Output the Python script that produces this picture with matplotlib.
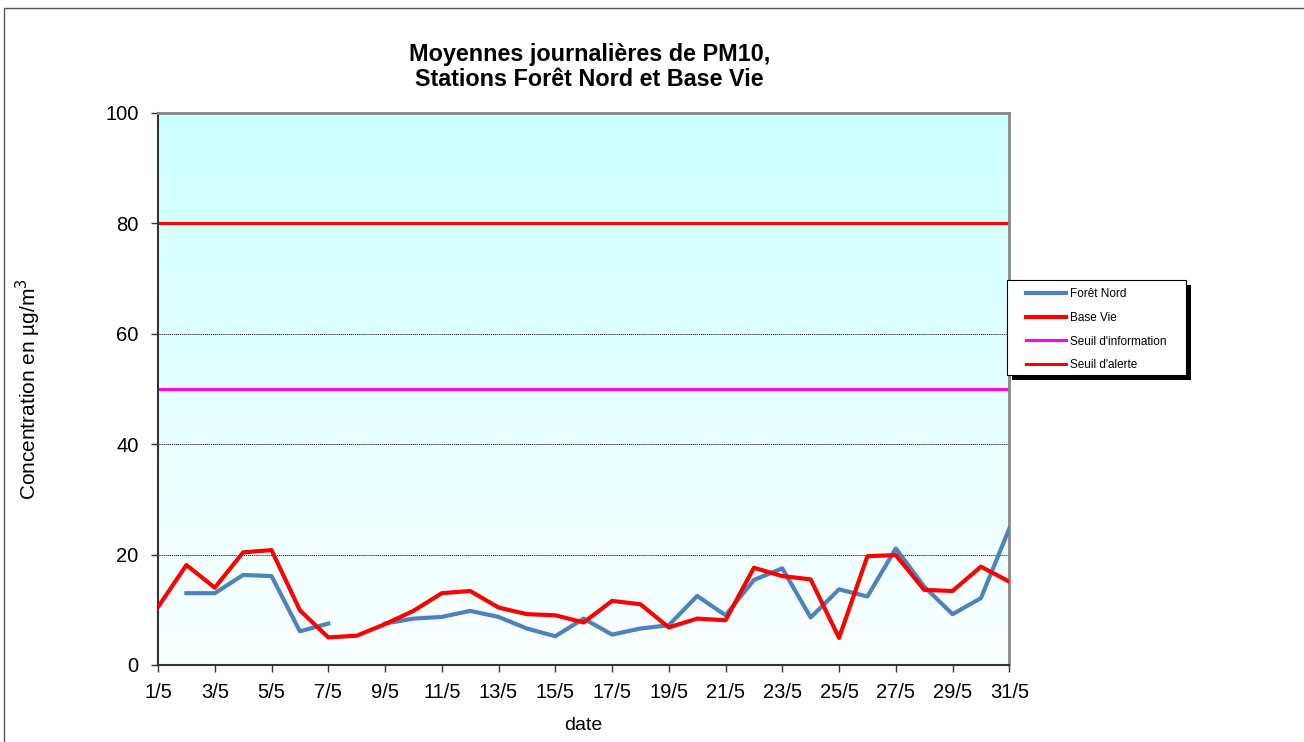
import numpy as np
import matplotlib.pyplot as plt
from matplotlib.patches import Rectangle

plt.rcParams['font.family'] = ['Liberation Sans', 'DejaVu Sans']

# Daily PM10 averages, May (day of month)
days = np.arange(1, 32)
foret_nord = [np.nan, 13.0, 13.0, 16.3, 16.1, 6.1, 7.5, np.nan, 7.5, 8.4,
              8.7, 9.8, 8.7, 6.6, 5.2, 8.4, 5.5, 6.6, 7.2, 12.5,
              9.0, 15.4, 17.5, 8.6, 13.7, 12.4, 21.1, 14.2, 9.2, 12.1, 24.7]
base_vie = [10.5, 18.1, 14.0, 20.4, 20.8, 9.9, 5.0, 5.3, 7.4, 9.8,
            13.0, 13.4, 10.4, 9.2, 9.0, 7.7, 11.6, 11.0, 6.8, 8.4,
            8.1, 17.6, 16.1, 15.5, 4.9, 19.7, 19.9, 13.6, 13.4, 17.8, 15.1]
seuil_info = 50
seuil_alerte = 80
tick_days = list(range(1, 32, 2))
tick_labels = [f'{d}/5' for d in tick_days]

W, H = 1304, 742
fig = plt.figure(figsize=(W / 100, H / 100), dpi=100)
ax = fig.add_axes([0.1212, 0.1038, 0.6528, 0.7442])

# outer chart frame
fig.patches.append(Rectangle((4 / W, -0.1), 1.2, 1 - 8 / H + 0.1,
                             transform=fig.transFigure, fill=False,
                             edgecolor='#555555', linewidth=1.0, zorder=0.5))

ax.set_xlim(1, 31)
ax.set_ylim(0, 100)

# gradient background
grad = np.linspace(0, 1, 256).reshape(-1, 1)
top = np.array([0.80, 1.0, 1.0])
bottom = np.array([0.98, 1.0, 1.0])
img = bottom + (top - bottom) * grad[:, :, None]
ax.imshow(img, extent=[1, 31, 0, 100], origin='lower', aspect='auto', zorder=0)

for v in [20, 40, 60, 80]:
    ax.axhline(v, color='black', linestyle=(0, (1, 1)), linewidth=0.7, zorder=1)

ax.plot(days, foret_nord, color='#4f81bd', linewidth=3, label='Forêt Nord', zorder=3)
ax.plot(days, base_vie, color='#ff0000', linewidth=3, label='Base Vie', zorder=4)
ax.axhline(seuil_info, color='#ff00ff', linewidth=2.2, label="Seuil d'information", zorder=2)
ax.axhline(seuil_alerte, color='#ff0000', linewidth=2.2, label="Seuil d'alerte", zorder=2)

ax.set_xticks(tick_days)
ax.set_xticklabels(tick_labels)
ax.set_yticks([0, 20, 40, 60, 80, 100])
ax.tick_params(axis='both', labelsize=14.5, direction='out', length=5, width=1, color='#333333')
ax.tick_params(axis='x', pad=8)
ax.tick_params(axis='y', pad=9)

for s in ['left', 'bottom']:
    ax.spines[s].set_color('#333333')
    ax.spines[s].set_linewidth(1.5)
for s in ['top', 'right']:
    ax.spines[s].set_color('#888888')
    ax.spines[s].set_linewidth(2)

ax.set_xlabel('date', fontsize=14, labelpad=11)
ax.set_ylabel('Concentration en µg/m$^3$', fontsize=15, labelpad=45)
ax.set_title('Moyennes journalières de PM10,\nStations Forêt Nord et Base Vie',
             fontsize=16.8, fontweight='bold', pad=19, x=0.507, linespacing=1.15)

# legend box with black drop shadow, drawn in figure pixels
bx0, by0, bx1, by1 = 1007, 280, 1186, 375
fig.patches.append(Rectangle(((bx0 + 5) / W, 1 - (by1 + 5) / H), (bx1 - bx0) / W, (by1 - by0) / H,
                             transform=fig.transFigure, facecolor='black', edgecolor='none', zorder=2))
fig.patches.append(Rectangle((bx0 / W, 1 - by1 / H), (bx1 - bx0) / W, (by1 - by0) / H,
                             transform=fig.transFigure, facecolor='white', edgecolor='black',
                             linewidth=0.8, zorder=3))
handles, labels = ax.get_legend_handles_labels()
leg = fig.legend(handles, labels, loc='upper left', bbox_to_anchor=(1026 / W, 1 - 288 / H),
                 bbox_transform=fig.transFigure, fontsize=8.5, frameon=False,
                 handlelength=3.4, handletextpad=0.35, labelspacing=1.0,
                 borderpad=0, borderaxespad=0)
leg.set_zorder(4)

fig.savefig('out.png', dpi=100)
